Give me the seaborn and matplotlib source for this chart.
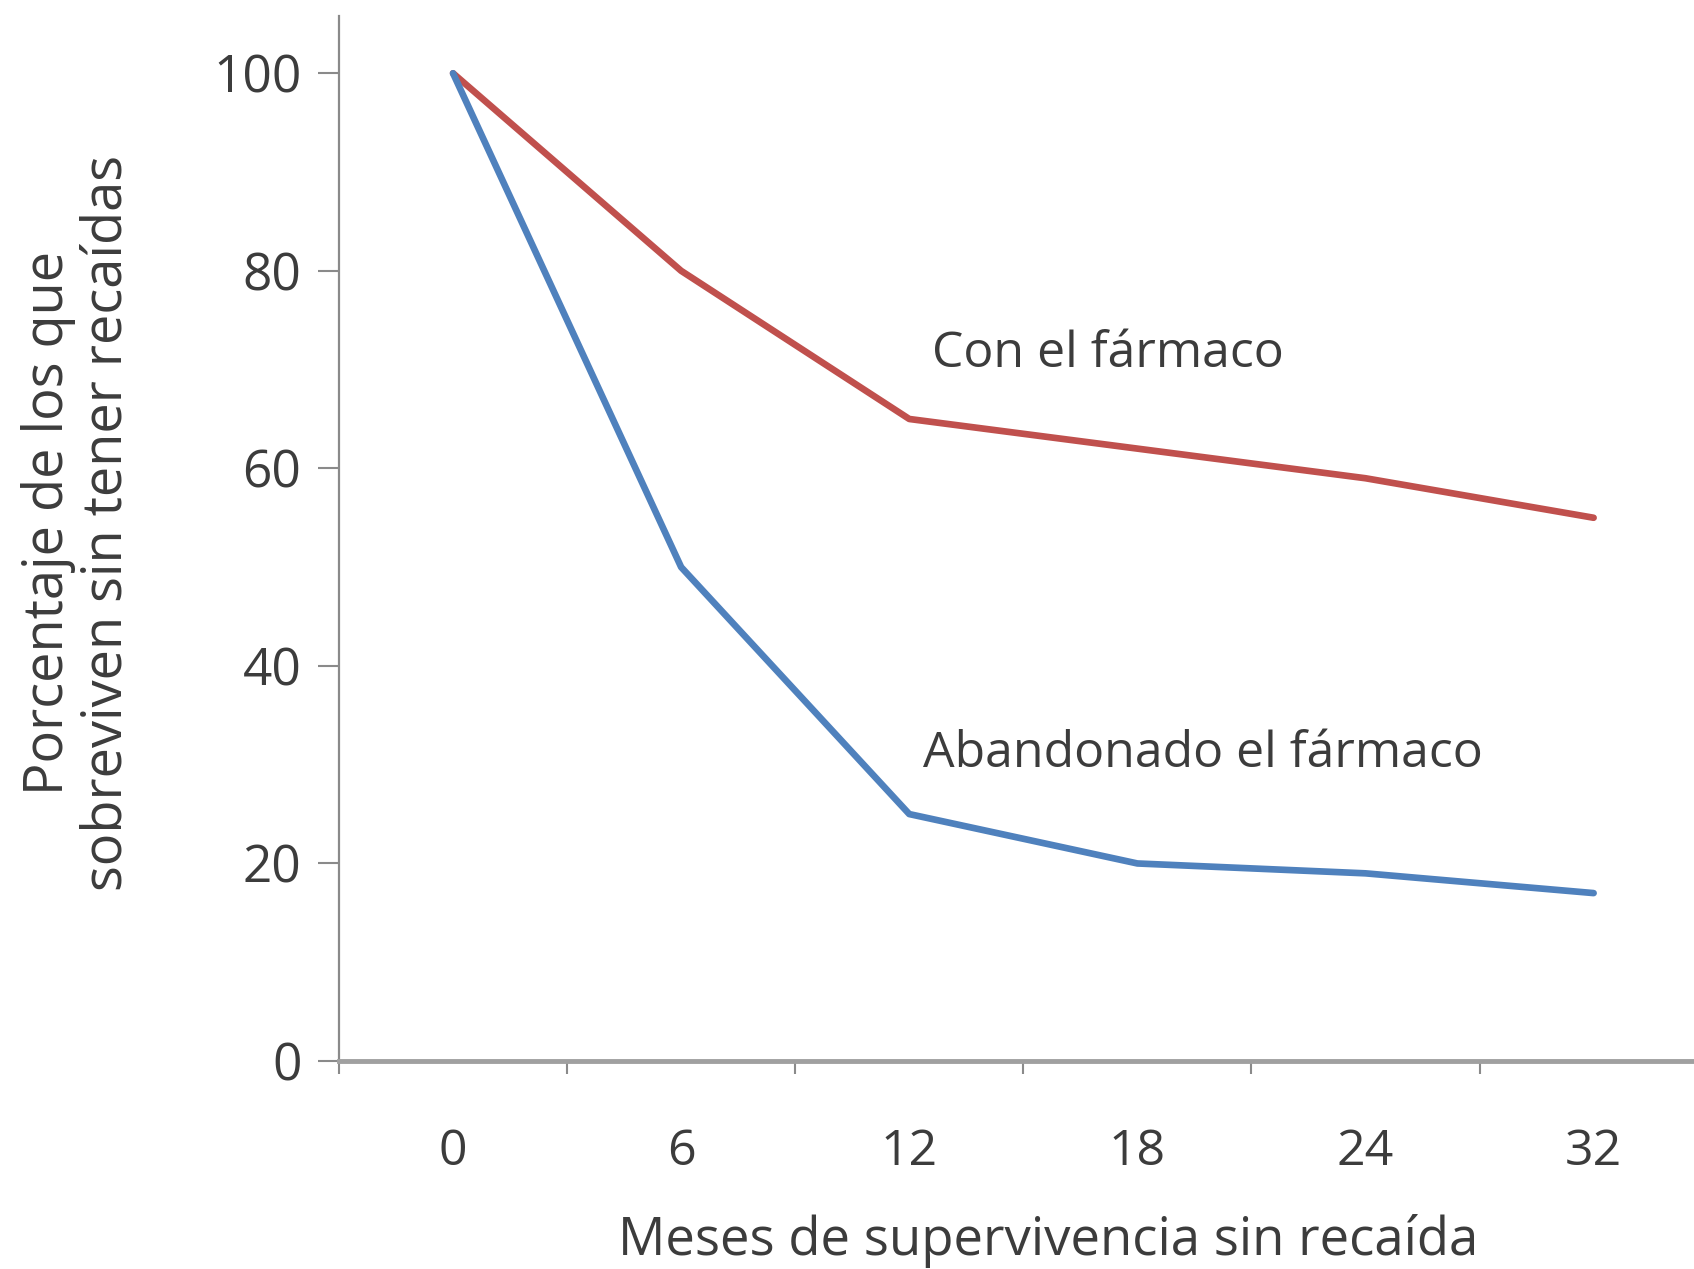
import matplotlib
matplotlib.use("Agg")
import matplotlib.pyplot as plt
import seaborn as sns
import pandas as pd
from matplotlib.ticker import FixedLocator

# Data
meses = ["0", "6", "12", "18", "24", "32"]
con_farmaco = [100, 80, 65, 62, 59, 55]
abandonado = [100, 50, 25, 20, 19, 17]
series_names = ["Con el fármaco", "Abandonado el fármaco"]
yticks = [0, 20, 40, 60, 80, 100]

df = pd.DataFrame({
    "mes": meses * 2,
    "porcentaje": con_farmaco + abandonado,
    "grupo": [series_names[0]] * len(meses) + [series_names[1]] * len(meses),
})

sns.set_theme(style="white")
plt.rcParams["font.family"] = ["Open Sans", "DejaVu Sans"]

TEXT = "#3c3c3c"

fig = plt.figure(figsize=(16.94, 12.69), dpi=100)
ax = fig.add_axes([0.2001, 0.1639, 0.7999, 0.8235])

sns.lineplot(
    data=df, x="mes", y="porcentaje", hue="grupo",
    palette={series_names[0]: "#C0504D", series_names[1]: "#4F81BD"},
    linewidth=4.8, legend=False, ax=ax, sort=False,
)

ax.set_xlim(-0.5, 5.44)
ax.set_ylim(0, 105.8)
ax.set_yticks(yticks)
ax.set_yticklabels([str(v) for v in yticks])

# Category ticks: labels centred, marks on the boundaries
ax.tick_params(axis="x", which="major", length=0, pad=48, labelsize=36, colors=TEXT)
ax.xaxis.set_minor_locator(FixedLocator([i - 0.5 for i in range(len(meses) + 1)]))
ax.tick_params(axis="x", which="minor", bottom=True, length=9, width=1.5, color="#8a8a8a", direction="out")
ax.tick_params(axis="y", which="major", left=True, length=15, width=1.5, color="#8a8a8a",
               pad=12, labelsize=37, labelcolor=TEXT, direction="out")

for side in ["top", "right"]:
    ax.spines[side].set_visible(False)
ax.spines["left"].set_color("#8a8a8a")
ax.spines["left"].set_linewidth(1.6)
ax.spines["bottom"].set_color("#a0a0a0")
ax.spines["bottom"].set_linewidth(3.5)

ax.set_xlabel("Meses de supervivencia sin recaída", fontsize=38, color=TEXT)
ax.xaxis.label.set_va("center")
ax.xaxis.set_label_coords(0.523, -0.172)

ax.set_ylabel("Porcentaje de los que\nsobreviven sin tener recaídas", fontsize=39,
              color=TEXT, linespacing=1.08)
ax.yaxis.label.set_va("center")
ax.yaxis.set_label_coords(-0.193, 0.515)

ax.text(2.1, 71.6, series_names[0], fontsize=36, color=TEXT, va="center", ha="left")
ax.text(2.06, 31.1, series_names[1], fontsize=36, color=TEXT, va="center", ha="left")

fig.savefig("out.png", dpi=100)
